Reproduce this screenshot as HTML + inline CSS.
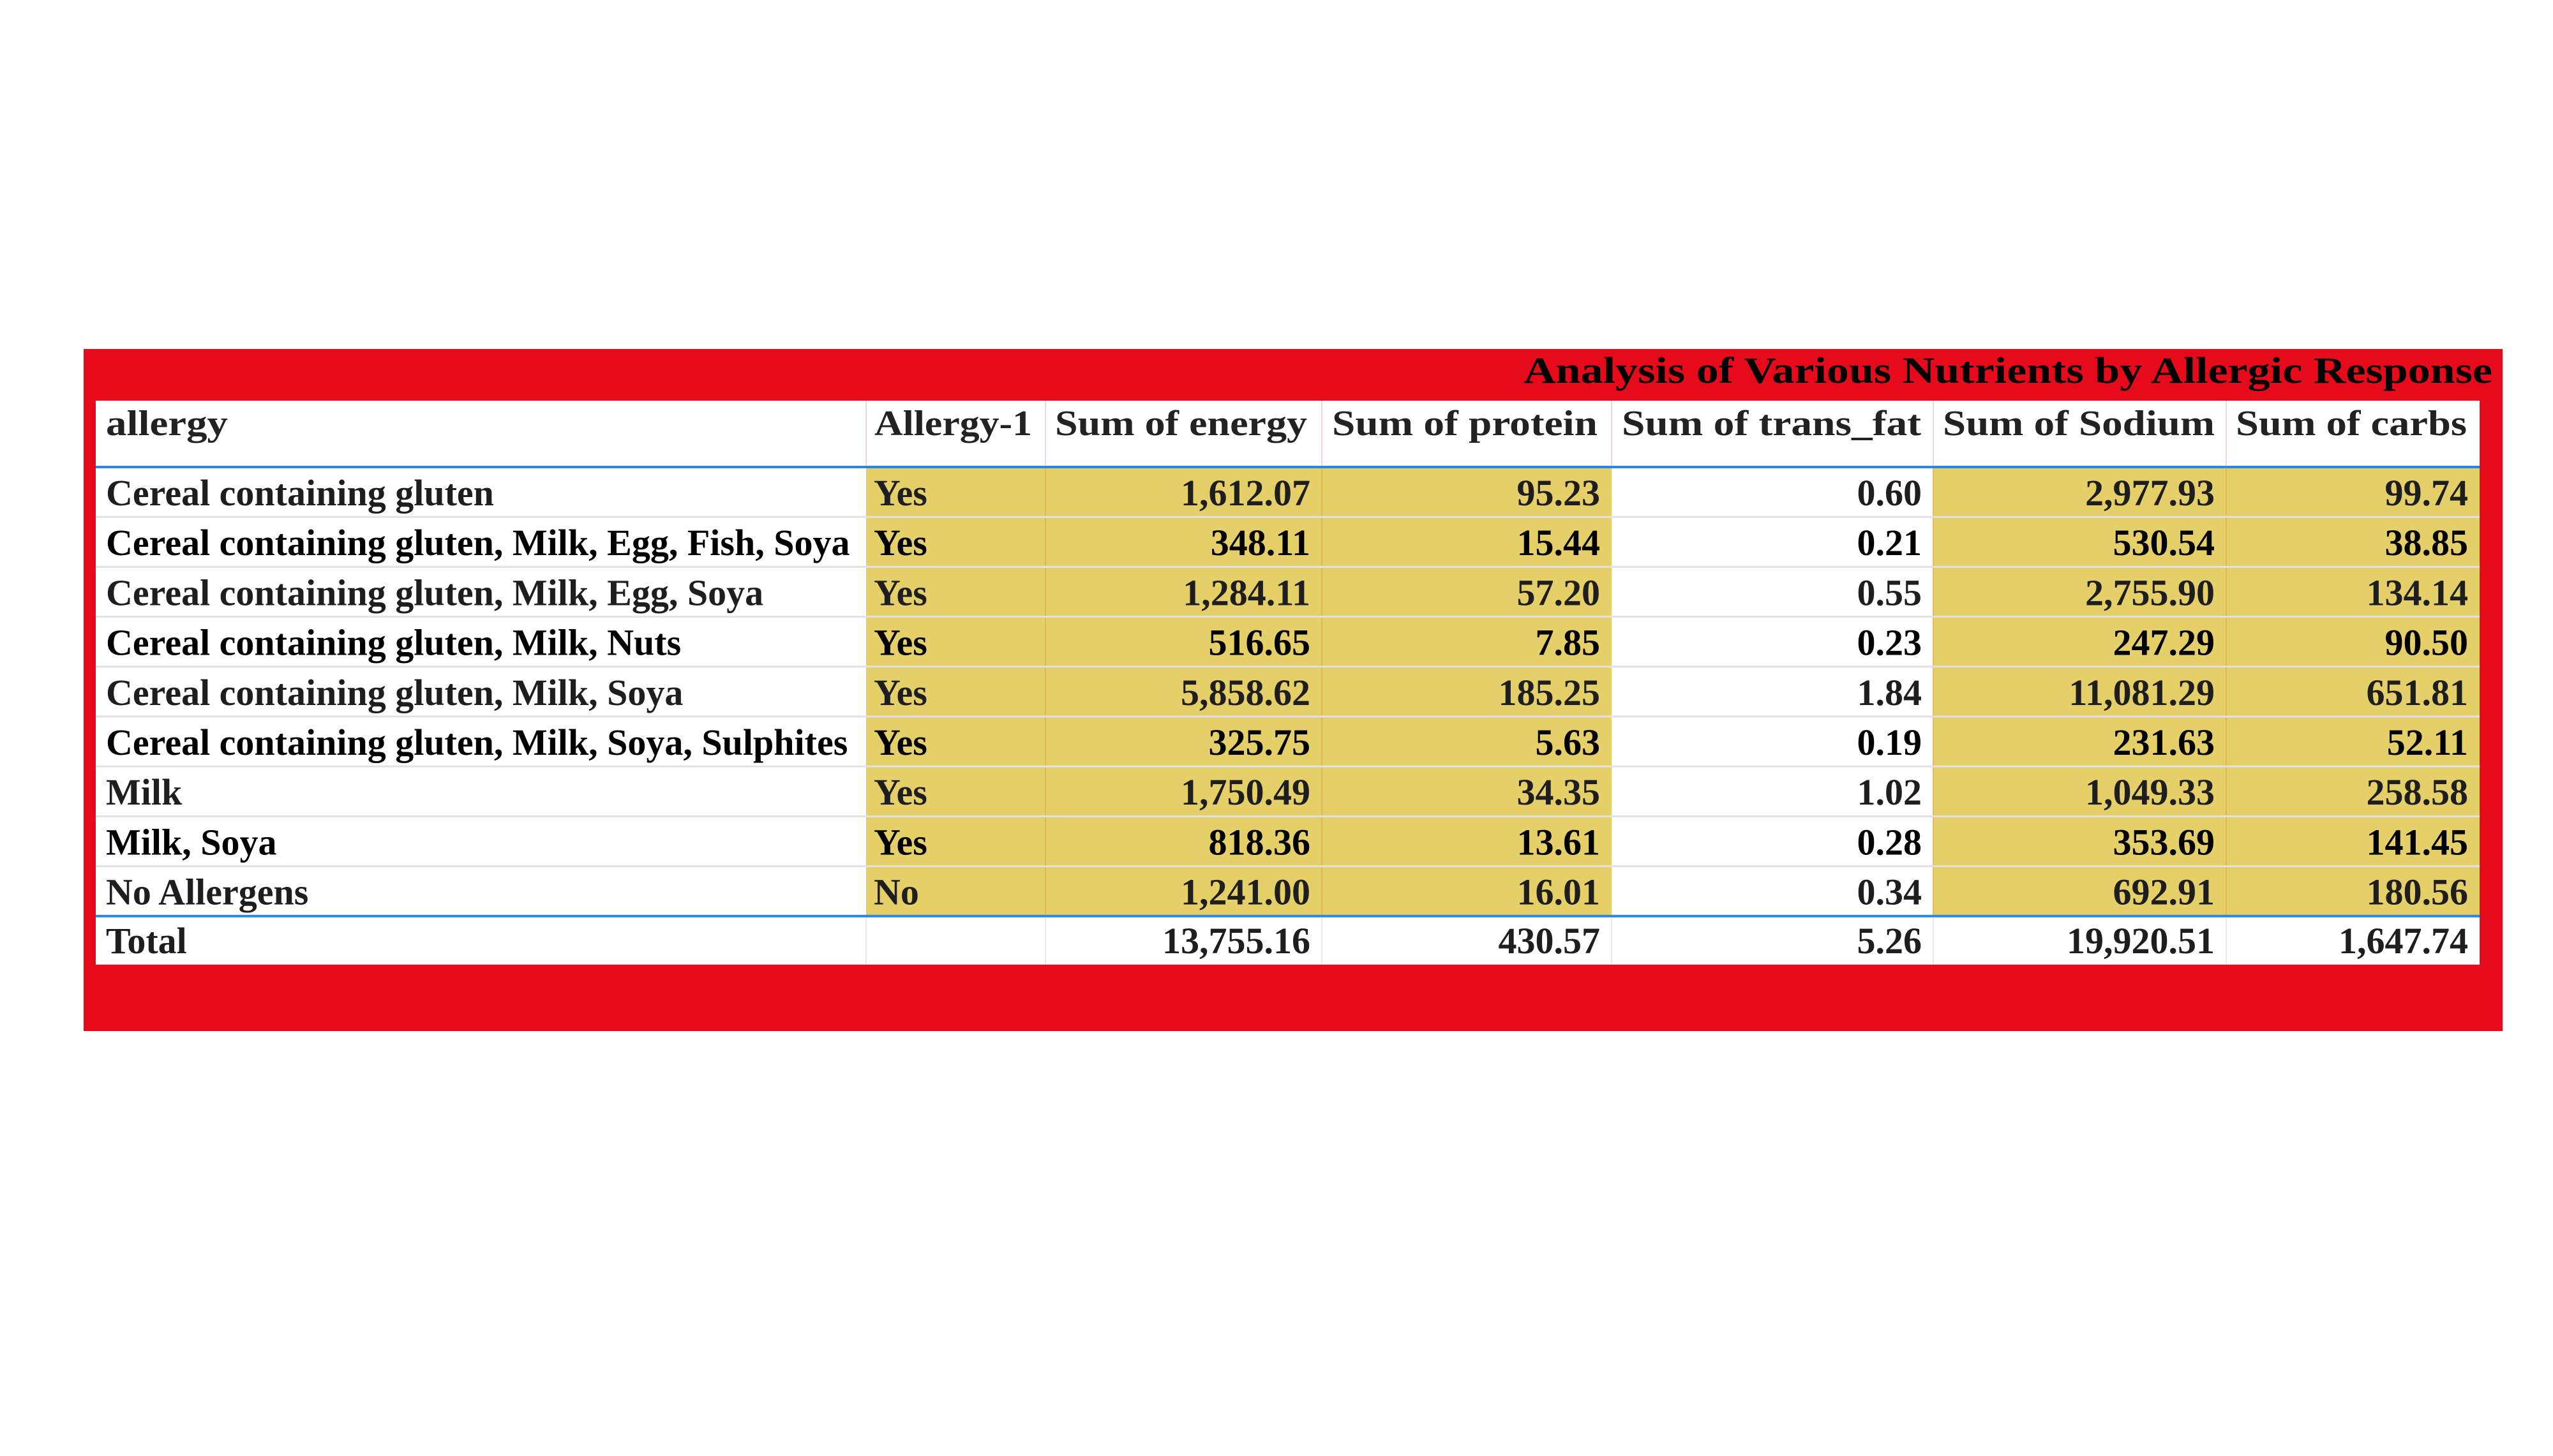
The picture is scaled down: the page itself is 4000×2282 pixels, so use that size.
<!DOCTYPE html>
<html><head><meta charset="utf-8"><style>
html,body{margin:0;padding:0;background:#fff;width:4000px;height:2282px;overflow:hidden}
svg text{font-family:"Liberation Serif",serif;font-weight:bold}
</style></head><body>
<svg id="chart" width="4000" height="2282" viewBox="0 0 4000 2282" xmlns="http://www.w3.org/2000/svg">
<rect x="131" y="547" width="3790" height="1069" fill="#e60a1b"/>
<text x="3905" y="600" text-anchor="end" font-size="58" fill="#000" textLength="1518" lengthAdjust="spacingAndGlyphs">Analysis of Various Nutrients by Allergic Response</text>
<g id="tbl"></g>
</svg>
<script>
const headers = ["allergy","Allergy-1","Sum of energy","Sum of protein","Sum of trans_fat","Sum of Sodium","Sum of carbs"];
const labels = ["Cereal containing gluten","Cereal containing gluten, Milk, Egg, Fish, Soya","Cereal containing gluten, Milk, Egg, Soya","Cereal containing gluten, Milk, Nuts","Cereal containing gluten, Milk, Soya","Cereal containing gluten, Milk, Soya, Sulphites","Milk","Milk, Soya","No Allergens"];
const allergy1 = ["Yes","Yes","Yes","Yes","Yes","Yes","Yes","Yes","No"];
const energy = [1612.07,348.11,1284.11,516.65,5858.62,325.75,1750.49,818.36,1241.00];
const protein = [95.23,15.44,57.20,7.85,185.25,5.63,34.35,13.61,16.01];
const transFat = [0.60,0.21,0.55,0.23,1.84,0.19,1.02,0.28,0.34];
const sodium = [2977.93,530.54,2755.90,247.29,11081.29,231.63,1049.33,353.69,692.91];
const carbs = [99.74,38.85,134.14,90.50,651.81,52.11,258.58,141.45,180.56];
const totals = [13755.16,430.57,5.26,19920.51,1647.74];

const colX = [150,1357,1638,2071,2525,3029,3488,3885];
const headerX = [166,1370,1653,2087,2541,3044,3503];
const headerW = [191,247,395,416,469,426,362];
const highlight = [false,true,true,true,false,true,true];
const headerTop = 628, headerBottom = 732, rowH = 78.2;
const NS = "http://www.w3.org/2000/svg";
const g = document.getElementById("tbl");
function mk(tag, attrs){const e=document.createElementNS(NS,tag);for(const k in attrs)e.setAttribute(k,attrs[k]);g.appendChild(e);return e;}
function fmt(v){return v.toLocaleString("en-US",{minimumFractionDigits:2,maximumFractionDigits:2});}

const totalTop = headerBottom + labels.length*rowH;
let bg = mk("rect",{x:colX[0],y:headerTop,width:colX[7]-colX[0],height:totalTop+76-headerTop,fill:"#fff"});



headers.forEach((h,i)=>{
  const t = mk("text",{x:headerX[i],y:682,"font-size":56,fill:"#222",textLength:headerW[i],lengthAdjust:"spacingAndGlyphs"});
  t.textContent = h;
  
  
  if(i>0){const l=mk("line",{x1:colX[i],y1:headerTop,x2:colX[i],y2:headerBottom,stroke:"#eadada","stroke-width":2});
    
    }
});

labels.forEach((lab,r)=>{
  const y0 = headerBottom + r*rowH;
  const vals = [lab, allergy1[r], fmt(energy[r]), fmt(protein[r]), fmt(transFat[r]), fmt(sodium[r]), fmt(carbs[r])];
  for(let c=0;c<7;c++){
    if(highlight[c]){
      const rc = mk("rect",{x:colX[c],y:y0,width:colX[c+1]-colX[c],height:rowH,fill:"#e5cf68"});
      
      
      if(c>1){const l=mk("line",{x1:colX[c],y1:y0,x2:colX[c],y2:y0+rowH,stroke:"#dcae5a","stroke-width":1.5});
        
        }
    }
    const right = c>=2;
    const t = mk("text",{x:right?colX[c+1]-18:colX[c]+(c===0?16:12),y:y0+60,"font-size":58,fill:r%2?"#000":"#1e1e1e","text-anchor":right?"end":"start"});
    t.textContent = vals[c];
    
    
  }
  if(r>0){
    const s = mk("rect",{x:colX[0],y:y0-1.5,width:colX[7]-colX[0],height:3,fill:"#e3e1e1"});
    
    
  }
});

[headerBottom,totalTop].forEach(y=>{
  const b = mk("rect",{x:colX[0],y:y-2,width:colX[7]-colX[0],height:4,fill:"#2a88e0"});
  
  
});

const tl = mk("text",{x:colX[0]+16,y:totalTop+58,"font-size":58,fill:"#1e1e1e"});
tl.textContent = "Total";


for(let c=1;c<7;c++){
  const l=mk("line",{x1:colX[c],y1:totalTop+2,x2:colX[c],y2:totalTop+76,stroke:"#e6e0e0","stroke-width":1.5});
  
  
}
totals.forEach((v,i)=>{
  const c=i+2;
  const t = mk("text",{x:colX[c+1]-18,y:totalTop+58,"font-size":58,fill:"#1e1e1e","text-anchor":"end"});
  t.textContent = fmt(v);
  
  
});
</script>
</body></html>
